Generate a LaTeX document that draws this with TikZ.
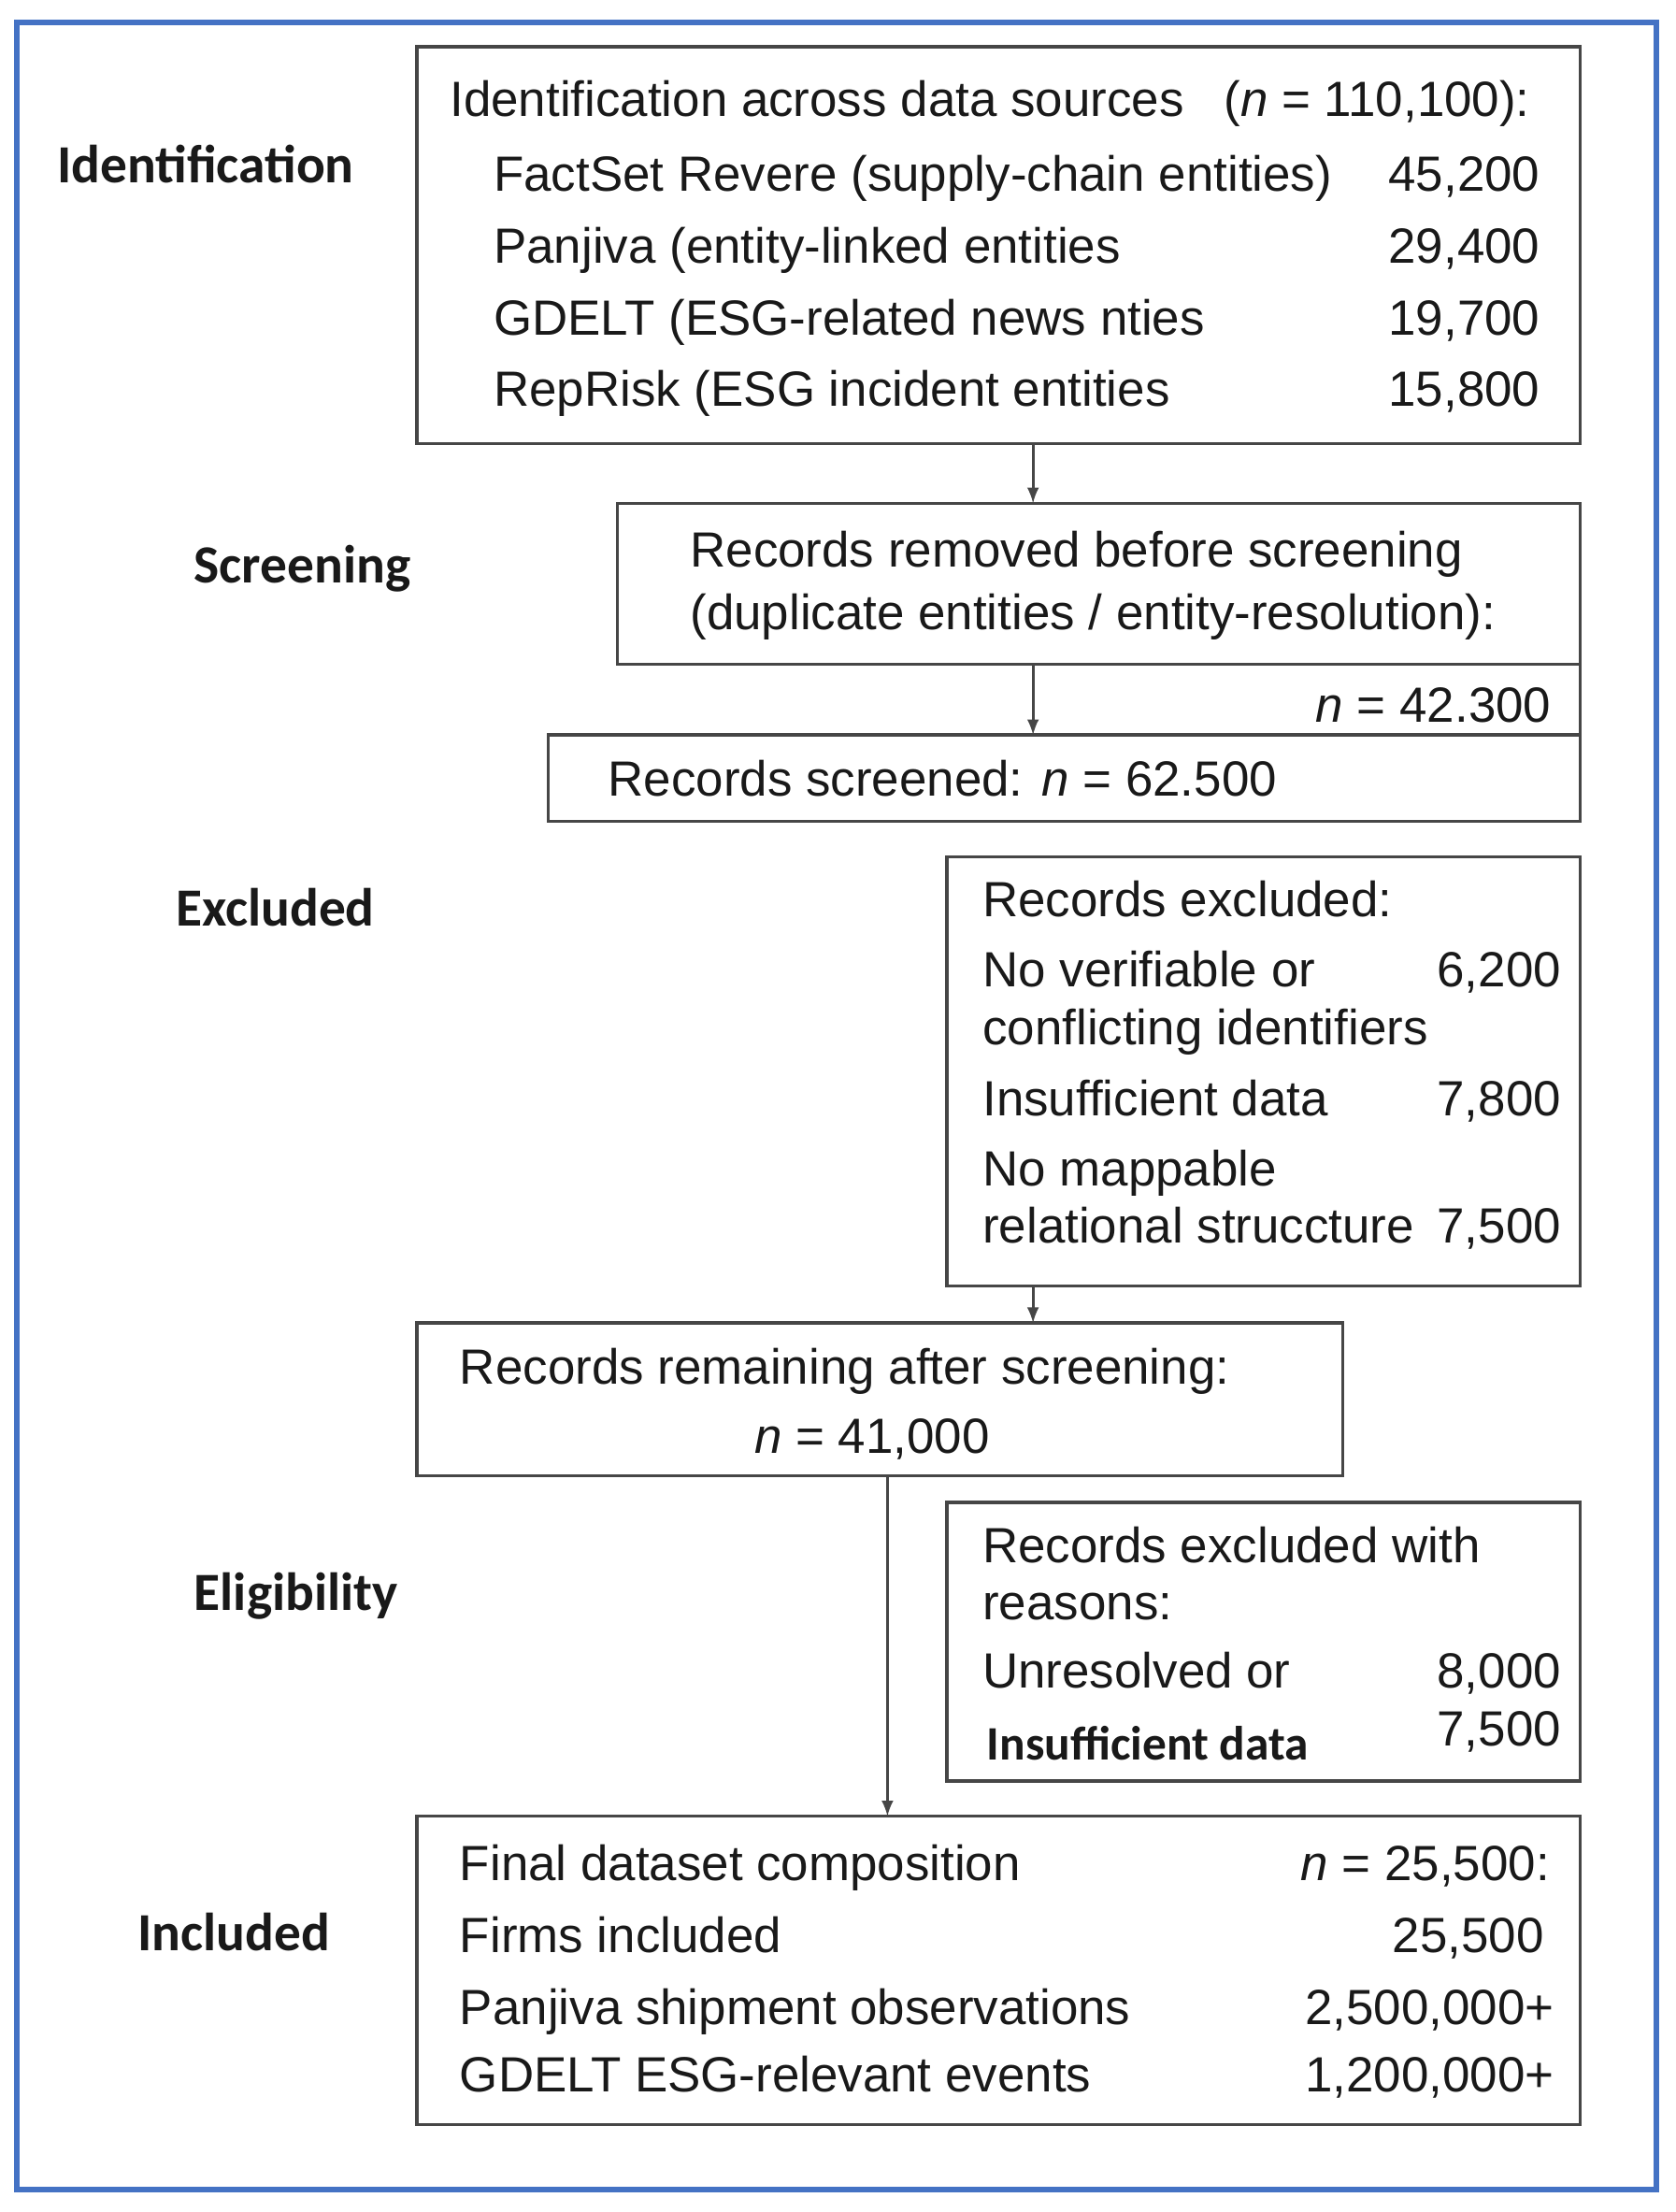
\documentclass[tikz,border=0pt]{standalone}
\usepackage{fontspec}
\setmainfont{Liberation Sans}
\newfontfamily\phasefont{Carlito}
\usetikzlibrary{fit}

\definecolor{frameblue}{RGB}{68,114,196}
\definecolor{boxgray}{RGB}{70,70,70}
\definecolor{ink}{RGB}{25,25,25}

\tikzset{
  flowbox/.style={draw=boxgray, line width=1.1pt, inner sep=0pt, outer sep=0pt},
  row/.style={anchor=mid west, inner sep=0pt, yshift=-3pt, text=ink, font=\fontsize{17.5}{20}\selectfont},
  count/.style={anchor=mid east, inner sep=0pt, yshift=-3pt, text=ink, font=\fontsize{17.5}{20}\selectfont},
  phase/.style={anchor=mid west, inner sep=0pt, yshift=-3pt, text=ink, font=\phasefont\bfseries\fontsize{19}{22}\selectfont},
}

\begin{document}
\begin{tikzpicture}[x=0.5pt, y=-0.5pt]
  \useasboundingbox (0,0) rectangle (1186,1565);
  \draw[frameblue, line width=2pt] (12,16) rectangle (1172,1549);

  % stage labels
  \node[phase] (ph1) at (40,118) {Identification};
  \node[phase] (ph2) at (137,401) {Screening};
  \node[phase] (ph3) at (124,644) {Excluded};
  \node[phase] (ph4) at (137,1128) {Eligibility};
  \node[phase] (ph5) at (97,1369) {Included};

  % boxes
  \node[flowbox, fit={(295,33) (1118,314)}] (idbox) {};
  \node[flowbox, fit={(437,356) (1118,470)}] (rmbox) {};
  \node[flowbox, fit={(388,520) (1118,581)}] (scrbox) {};
  \node[flowbox, fit={(670,606) (1118,910)}] (exbox) {};
  \node[flowbox, fit={(295,936) (950,1044)}] (rembox) {};
  \node[flowbox, fit={(670,1063) (1118,1260)}] (elbox) {};
  \node[flowbox, fit={(295,1285) (1118,1503)}] (inbox) {};

  % identification
  \node[row] (id0) at (318,71) {Identification across data sources};
  \node[count] (id0n) at (1083,71) {(\textit{n} = 110,100):};
  \node[row] (id1) at (349,124) {FactSet Revere (supply-chain entities)};
  \node[count] (id1n) at (1090,124) {45,200};
  \node[row] (id2) at (349,175) {Panjiva (entity-linked entities};
  \node[count] (id2n) at (1090,175) {29,400};
  \node[row] (id3) at (349,226) {GDELT (ESG-related news nties};
  \node[count] (id3n) at (1090,226) {19,700};
  \node[row] (id4) at (349,276) {RepRisk (ESG incident entities};
  \node[count] (id4n) at (1090,276) {15,800};

  % screening
  \node[row] (rm1) at (488,390) {Records removed before screening};
  \node[row] (rm2) at (488,434) {(duplicate entities / entity-resolution):};
  \node[count] (rmn) at (1098,500) {\textit{n} = 42.300};
  \node[row] (scr) at (430,552) {Records screened: \textit{n} = 62.500};

  % excluded
  \node[row] (ex0) at (695,637) {Records excluded:};
  \node[row] (ex1) at (695,687) {No verifiable or};
  \node[count] (ex1n) at (1105,687) {6,200};
  \node[row] (ex1b) at (695,728) {conflicting identifiers};
  \node[row] (ex2) at (695,778) {Insufficient data};
  \node[count] (ex2n) at (1105,778) {7,800};
  \node[row] (ex3) at (695,828) {No mappable};
  \node[row] (ex3b) at (695,868) {relational struccture};
  \node[count] (ex3n) at (1105,868) {7,500};

  % remaining
  \node[row] (rem1) at (325,968) {Records remaining after screening:};
  \node[row, anchor=mid] (remn) at (617,1017) {\textit{n} = 41,000};

  % eligibility
  \node[row] (el0) at (695,1094) {Records excluded with};
  \node[row] (el0b) at (695,1135) {reasons:};
  \node[row] (el1) at (695,1183) {Unresolved or};
  \node[count] (el1n) at (1105,1183) {8,000};
  \node[row, font=\phasefont\bfseries\fontsize{17}{20}\selectfont] (el2) at (698,1234) {Insufficient data};
  \node[count] (el2n) at (1105,1224) {7,500};

  % included
  \node[row] (in0) at (325,1319) {Final dataset composition};
  \node[count] (in0n) at (1097,1319) {\textit{n} = 25,500:};
  \node[row] (in1) at (325,1370) {Firms included};
  \node[count] (in1n) at (1093,1370) {25,500};
  \node[row] (in2) at (325,1421) {Panjiva shipment observations};
  \node[count] (in2n) at (1100,1421) {2,500,000+};
  \node[row] (in3) at (325,1469) {GDELT ESG-relevant events};
  \node[count] (in3n) at (1100,1469) {1,200,000+};

  % connectors
  \coordinate (axis) at (731,0);
  \coordinate (axisb) at (628,0);
  \draw[boxgray, line width=1.1pt] (rmbox.south east) -- (scrbox.north east);
  \path[-latex, boxgray, line width=0.9pt] (idbox.south -| axis) edge (rmbox.north -| axis);
  \path[-latex, boxgray, line width=0.9pt] (rmbox.south -| axis) edge (scrbox.north -| axis);
  \path[-latex, boxgray, line width=0.9pt] (exbox.south -| axis) edge (rembox.north -| axis);
  \path[-latex, boxgray, line width=0.9pt] (rembox.south -| axisb) edge (inbox.north -| axisb);
\end{tikzpicture}
\end{document}
